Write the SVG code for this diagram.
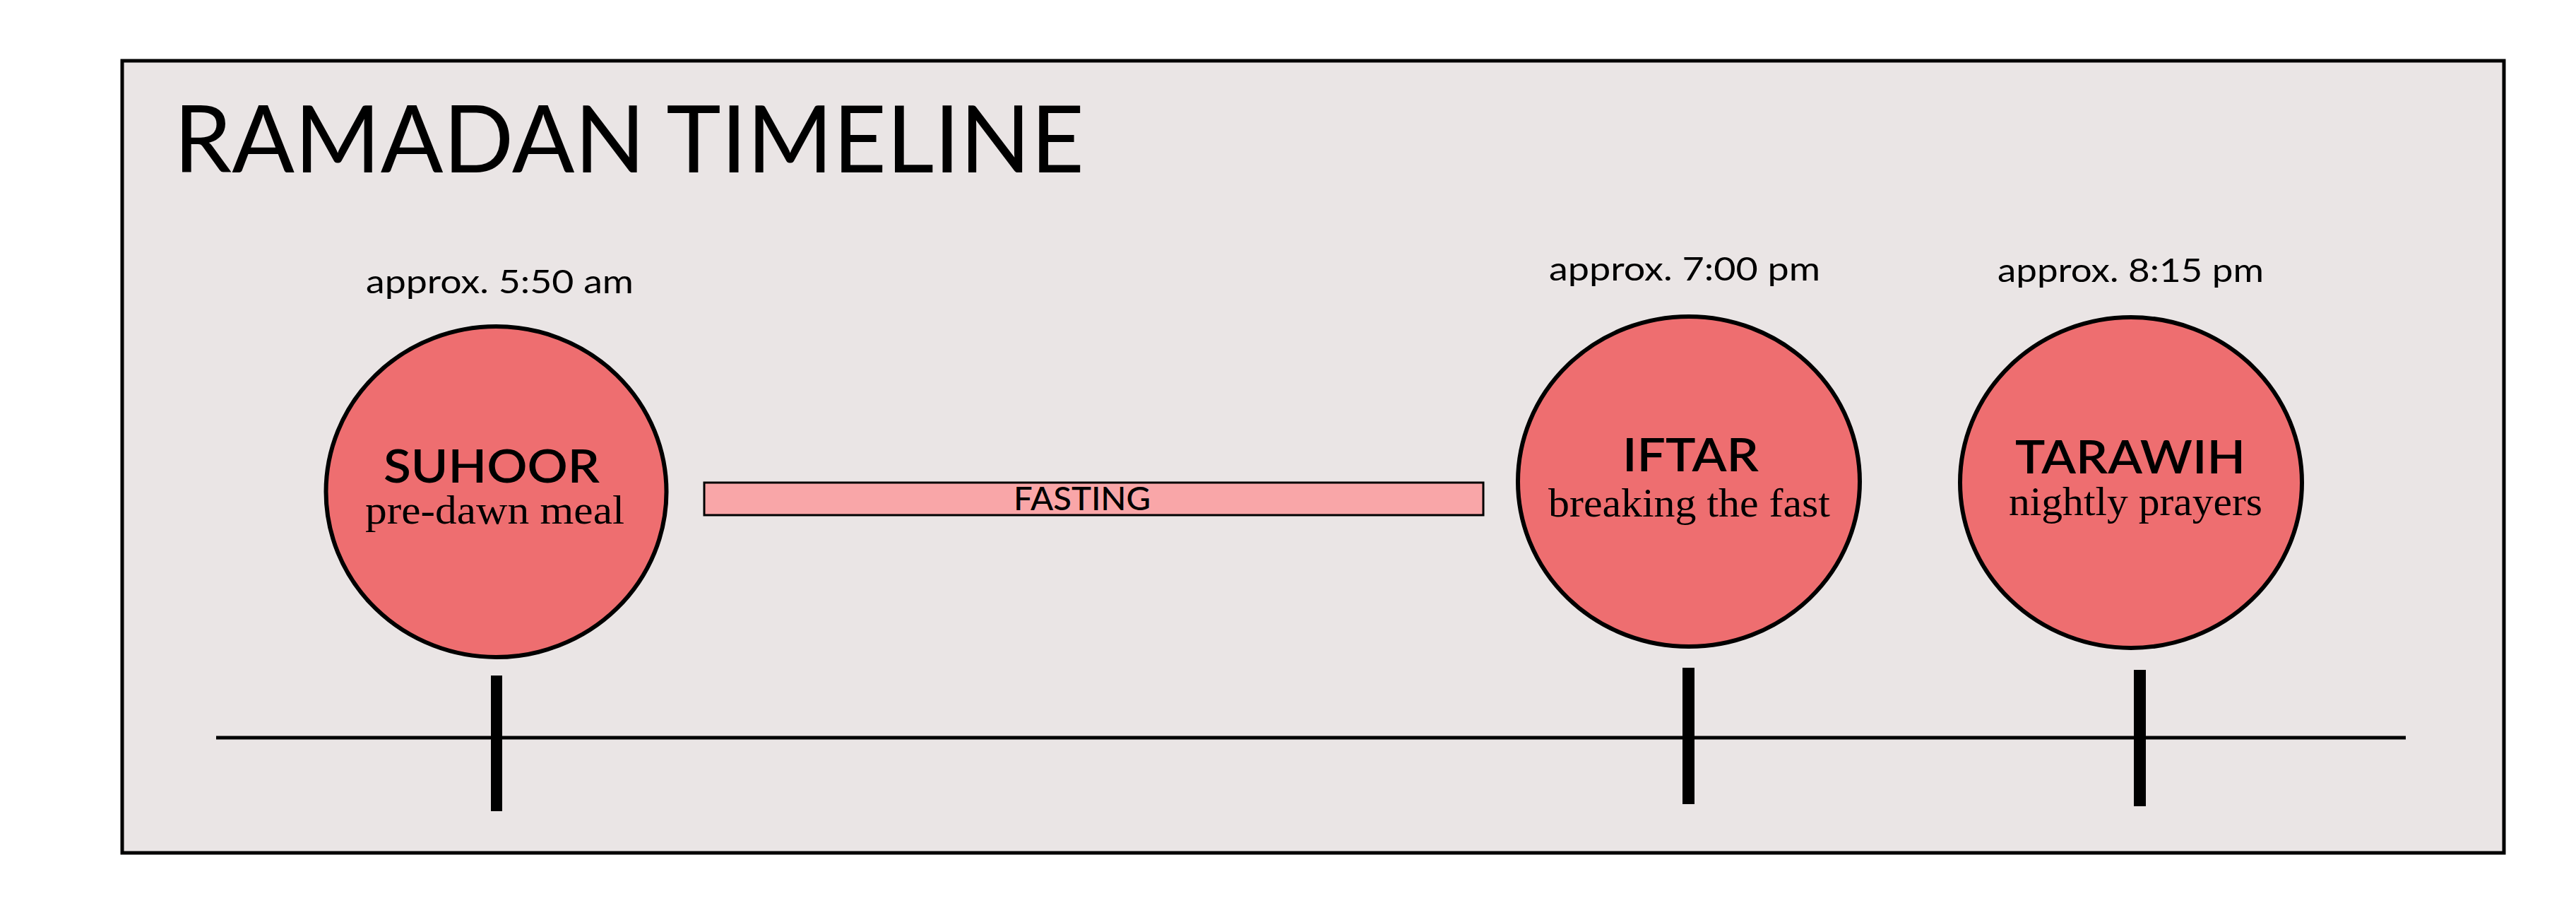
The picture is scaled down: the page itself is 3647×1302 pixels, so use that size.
<svg xmlns="http://www.w3.org/2000/svg" width="3647" height="1302" viewBox="0 0 3647 1302">
<style>
.sans{font-family:Lato,"Open Sans","Liberation Sans",sans-serif;fill:#000}
.serif{font-family:"Liberation Serif","DejaVu Serif",serif;fill:#000}
.time{font-size:46px;font-weight:400}
.name{font-size:66px;font-weight:600}
.sub{font-size:58px}
.node{fill:#EE6E70;stroke:#000;stroke-width:6}
.tick{fill:#000}
</style>
<rect width="3647" height="1302" fill="#fff"/>
<rect x="173" y="86" width="3372" height="1121" fill="#EAE5E5" stroke="#000" stroke-width="5"/>
<text class="sans" x="246" y="244" font-size="131" font-weight="400" textLength="1289" lengthAdjust="spacingAndGlyphs">RAMADAN TIMELINE</text>
<g id="connectors">
<line x1="306" y1="1044" x2="3406" y2="1044" stroke="#000" stroke-width="5"/>
<rect class="tick" x="695" y="956" width="16" height="192"/>
<rect class="tick" x="2382" y="945" width="17" height="193"/>
<rect class="tick" x="3021" y="948" width="17" height="193"/>
</g>
<g id="fasting">
<rect x="997" y="683" width="1103" height="46" fill="#F9A6A8" stroke="#000" stroke-width="3"/>
<text class="sans" x="1435" y="722" font-size="46" font-weight="500" textLength="194" lengthAdjust="spacingAndGlyphs">FASTING</text>
</g>
<g id="suhoor">
<text class="sans time" x="518" y="415" textLength="379" lengthAdjust="spacingAndGlyphs">approx. 5:50 am</text>
<ellipse class="node" cx="702.5" cy="696" rx="241" ry="234"/>
<text class="sans name" x="543" y="683" textLength="306" lengthAdjust="spacingAndGlyphs">SUHOOR</text>
<text class="serif sub" x="517" y="741" textLength="367" lengthAdjust="spacingAndGlyphs">pre-dawn meal</text>
</g>
<g id="iftar">
<text class="sans time" x="2193" y="397" textLength="384" lengthAdjust="spacingAndGlyphs">approx. 7:00 pm</text>
<ellipse class="node" cx="2391" cy="681.5" rx="242" ry="233.5"/>
<text class="sans name" x="2297" y="667" textLength="193" lengthAdjust="spacingAndGlyphs">IFTAR</text>
<text class="serif sub" x="2192" y="731" textLength="399" lengthAdjust="spacingAndGlyphs">breaking the fast</text>
</g>
<g id="tarawih">
<text class="sans time" x="2828" y="399" textLength="377" lengthAdjust="spacingAndGlyphs">approx. 8:15 pm</text>
<ellipse class="node" cx="3017" cy="683" rx="242" ry="234"/>
<text class="sans name" x="2853" y="670" textLength="326" lengthAdjust="spacingAndGlyphs">TARAWIH</text>
<text class="serif sub" x="2844" y="729" textLength="359" lengthAdjust="spacingAndGlyphs">nightly prayers</text>
</g>
</svg>
